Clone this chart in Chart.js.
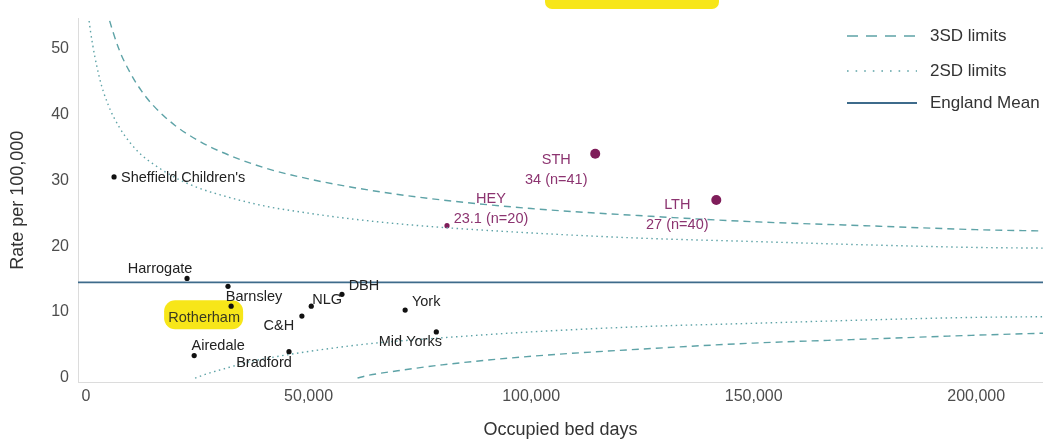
<!DOCTYPE html>
<html>
<head>
<meta charset="utf-8">
<script src="https://cdn.jsdelivr.net/npm/chart.js@4.4.0/dist/chart.umd.min.js"></script>
<style>
  html, body { margin: 0; padding: 0; background: #fff; }
  #wrap { width: 1043px; height: 443px; position: relative; }
</style>
</head>
<body>
<div id="wrap"><canvas id="funnel"></canvas></div>
<script>
// Trusts within limits
const trustNames = ["Sheffield Children's", "Harrogate", "Barnsley", "Rotherham", "C&H", "NLG", "DBH", "York", "Mid Yorks", "Airedale", "Bradford"];
const trustBedDays = [6300, 22700, 31900, 32600, 48500, 50600, 57500, 71700, 78700, 24300, 45600];
const trustRates = [30.5, 15.1, 13.9, 10.9, 9.4, 10.9, 12.7, 10.3, 7.0, 3.4, 4.0];

// Trusts flagged above the limits
const outlierNames = ["HEY", "STH", "LTH"];
const outlierBedDays = [81100, 114400, 141600];
const outlierRates = [23.1, 34, 27];
const outlierCases = [20, 41, 40];

const englandMean = 14.5;

// Control limits
const upper3Days = [4000, 5000, 7500, 10000, 12500, 15000, 20000, 25000, 30000, 40000, 50000, 60000, 75000, 100000, 125000, 150000, 175000, 200000, 215000];
const upper3Rates = [57.7, 54.9, 49.7, 46.2, 43.5, 41.4, 38.3, 36.1, 34.4, 31.9, 30.2, 28.9, 27.4, 25.7, 24.6, 23.7, 23.1, 22.5, 22.3];
const upper2Days = [300, 1000, 3000, 5000, 7500, 10000, 12500, 15000, 20000, 25000, 30000, 40000, 50000, 60000, 75000, 100000, 125000, 150000, 175000, 200000, 215000];
const upper2Rates = [56.4, 52.6, 45.6, 41.4, 38.0, 35.6, 33.8, 32.5, 30.4, 28.9, 27.8, 26.1, 25.0, 24.1, 23.1, 22.0, 21.2, 20.7, 20.2, 19.8, 19.7];
const lower3Days = [61000, 63000, 70000, 80000, 100000, 125000, 150000, 175000, 200000, 215000];
const lower3Rates = [0, 0.35, 1.1, 2.0, 3.3, 4.4, 5.3, 5.9, 6.5, 6.8];
const lower2Days = [24500, 27000, 31000, 37000, 45000, 55000, 65000, 80000, 100000, 125000, 150000, 175000, 200000, 215000];
const lower2Rates = [0, 0.6, 1.4, 2.5, 3.5, 4.5, 5.3, 6.1, 7.0, 7.8, 8.3, 8.8, 9.2, 9.3];

const xTicks = [0, 50000, 100000, 150000, 200000];
const yTicks = [0, 10, 20, 30, 40, 50];

const FONT = "'Liberation Sans', Arial, Helvetica, sans-serif";
const LIMIT_COLOUR = '#5ea3a7';
const MEAN_COLOUR = '#3e6b8b';
const FLAG_COLOUR = '#7f1d5a';
const FLAG_TEXT = '#8c3470';

const pairs = (xs, ys) => xs.map((x, i) => ({ x: x, y: ys[i] }));

// where each name sits relative to its dot: [dx, dy, align]
const labelOffsets = {
  "Sheffield Children's": [7, 1, 'left'],
  "Harrogate": [-27, -9, 'center'],
  "Barnsley": [26, 11, 'center'],
  "Rotherham": [-27, 12, 'center'],
  "C&H": [-23, 10, 'center'],
  "NLG": [16, -6, 'center'],
  "DBH": [22, -8, 'center'],
  "York": [21, -8, 'center'],
  "Mid Yorks": [-26, 10, 'center'],
  "Airedale": [24, -10, 'center'],
  "Bradford": [-25, 11, 'center']
};
const outlierOffsets = { "HEY": [44, -27], "STH": [-39, 6], "LTH": [-39, 5] };

const highlightPlugin = {
  id: 'highlights',
  beforeDatasetsDraw(chart) {
    const ctx = chart.ctx;
    ctx.save();
    ctx.fillStyle = '#f7e619';
    // marker over the heading strip
    ctx.beginPath();
    ctx.roundRect(545, -8, 174, 17, 7);
    ctx.fill();
    // marker behind Rotherham
    const xs = chart.scales.x, ys = chart.scales.y;
    const i = trustNames.indexOf('Rotherham');
    const px = xs.getPixelForValue(trustBedDays[i]);
    const py = ys.getPixelForValue(trustRates[i]);
    ctx.beginPath();
    ctx.roundRect(px - 67, py - 6, 79, 29, 11);
    ctx.fill();
    ctx.restore();
  }
};

const labelPlugin = {
  id: 'pointLabels',
  afterDatasetsDraw(chart) {
    const ctx = chart.ctx;
    const xs = chart.scales.x, ys = chart.scales.y;
    ctx.save();
    ctx.font = '14.5px ' + FONT;
    ctx.textBaseline = 'middle';
    trustNames.forEach((name, i) => {
      const off = labelOffsets[name];
      const px = xs.getPixelForValue(trustBedDays[i]);
      const py = ys.getPixelForValue(trustRates[i]);
      ctx.textAlign = off[2];
      ctx.fillStyle = name === 'Rotherham' ? '#3a3a20' : '#222';
      ctx.fillText(name, px + off[0], py + off[1]);
    });
    ctx.fillStyle = FLAG_TEXT;
    ctx.textAlign = 'center';
    outlierNames.forEach((name, i) => {
      const off = outlierOffsets[name];
      const px = xs.getPixelForValue(outlierBedDays[i]);
      const py = ys.getPixelForValue(outlierRates[i]);
      ctx.fillText(name, px + off[0], py + off[1]);
      ctx.fillText(outlierRates[i] + ' (n=' + outlierCases[i] + ')', px + off[0], py + off[1] + 20);
    });
    ctx.restore();
  }
};

const legendPlugin = {
  id: 'limitLegend',
  afterDraw(chart) {
    const ctx = chart.ctx;
    const items = [
      { label: chart.data.datasets[0].label, dash: [11, 8], colour: LIMIT_COLOUR, width: 1.7 },
      { label: chart.data.datasets[2].label, dash: [1.6, 7], colour: LIMIT_COLOUR, width: 1.7 },
      { label: chart.data.datasets[4].label, dash: [], colour: MEAN_COLOUR, width: 1.8 }
    ];
    const rows = [36, 71, 103];
    ctx.save();
    ctx.font = '17px ' + FONT;
    ctx.textBaseline = 'middle';
    ctx.textAlign = 'left';
    items.forEach((it, i) => {
      ctx.beginPath();
      ctx.setLineDash(it.dash);
      ctx.strokeStyle = it.colour;
      ctx.lineWidth = it.width;
      ctx.moveTo(847, rows[i]);
      ctx.lineTo(917, rows[i]);
      ctx.stroke();
      ctx.setLineDash([]);
      ctx.fillStyle = '#333';
      ctx.fillText(it.label, 930, rows[i]);
    });
    ctx.restore();
  }
};

const limitLine = (label, data, dash) => ({
  label: label,
  data: data,
  showLine: true,
  borderColor: LIMIT_COLOUR,
  borderWidth: 1.4,
  borderDash: dash,
  pointRadius: 0,
  cubicInterpolationMode: 'monotone',
  fill: false
});

new Chart(document.getElementById('funnel'), {
  type: 'scatter',
  data: {
    datasets: [
      limitLine('3SD limits', pairs(upper3Days, upper3Rates), [7, 5]),
      limitLine('3SD limits', pairs(lower3Days, lower3Rates), [7, 5]),
      limitLine('2SD limits', pairs(upper2Days, upper2Rates), [1.5, 3.5]),
      limitLine('2SD limits', pairs(lower2Days, lower2Rates), [1.5, 3.5]),
      {
        label: 'England Mean',
        data: [{ x: -1800, y: englandMean }, { x: 215000, y: englandMean }],
        showLine: true,
        borderColor: MEAN_COLOUR,
        borderWidth: 1.6,
        pointRadius: 0
      },
      {
        label: 'Trusts',
        data: pairs(trustBedDays, trustRates),
        pointRadius: 2.6,
        pointBackgroundColor: '#111',
        pointBorderWidth: 0
      },
      {
        label: 'Flagged',
        data: pairs(outlierBedDays, outlierRates),
        pointRadius: outlierCases.map(n => n >= 30 ? 5 : 2.6),
        pointBackgroundColor: FLAG_COLOUR,
        pointBorderWidth: 0
      }
    ]
  },
  options: {
    responsive: true,
    maintainAspectRatio: false,
    animation: false,
    layout: { autoPadding: false, padding: { top: 14, right: 0, left: 0, bottom: 0 } },
    plugins: { legend: { display: false }, tooltip: { enabled: false } },
    scales: {
      x: {
        type: 'linear',
        min: -1800,
        max: 215000,
        afterBuildTicks: s => { s.ticks = xTicks.map(v => ({ value: v })); },
        afterFit: s => { s.height = 61; s.paddingLeft = 0; s.paddingRight = 0; },
        grid: { display: false, drawTicks: false },
        border: { display: true, color: '#dcdcdc', width: 1 },
        ticks: {
          padding: 5,
          color: '#4d4d4d',
          font: { family: FONT, size: 16 },
          maxRotation: 0,
          callback: v => v.toLocaleString('en-US')
        },
        title: {
          display: true,
          text: 'Occupied bed days',
          color: '#333',
          font: { family: FONT, size: 18 },
          padding: { top: 0, bottom: 2 }
        }
      },
      y: {
        min: -0.6,
        max: 54.5,
        afterBuildTicks: s => { s.ticks = yTicks.map(v => ({ value: v })); },
        afterFit: s => { s.width = 78; },
        grid: { display: false, drawTicks: false },
        border: { display: true, color: '#dcdcdc', width: 1 },
        ticks: {
          padding: 9,
          color: '#4d4d4d',
          font: { family: FONT, size: 16 }
        },
        title: {
          display: true,
          text: 'Rate per 100,000',
          color: '#333',
          font: { family: FONT, size: 18 },
          padding: { top: 7, bottom: 0 }
        }
      }
    }
  },
  plugins: [highlightPlugin, labelPlugin, legendPlugin]
});
</script>
</body>
</html>
